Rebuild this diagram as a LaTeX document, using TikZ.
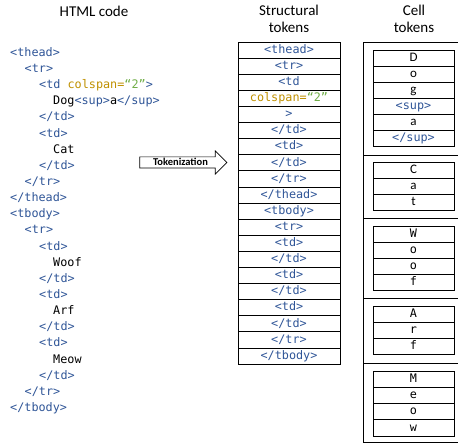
\documentclass[tikz,border=0pt]{standalone}
\usepackage{fontspec}
\setmainfont{Carlito}
\newfontfamily\codefont{DejaVu Sans Mono}
\usetikzlibrary{shapes.arrows}
\definecolor{tagblue}{RGB}{47,85,151}
\definecolor{attrgold}{RGB}{191,144,0}
\definecolor{valgreen}{RGB}{112,173,71}
\newcommand{\TAG}[1]{{\color{tagblue}#1}}
\newcommand{\ATTR}[1]{{\color{attrgold}#1}}
\newcommand{\VAL}[1]{{\color{valgreen}#1}}

\begin{document}
\begin{tikzpicture}[x=1pt,y=-1pt,
    code/.style={anchor=west,inner sep=0pt,font=\codefont\fontsize{11.8}{14}\selectfont,text height=9pt,text depth=2.5pt},
    title/.style={align=center,font=\fontsize{15}{17}\selectfont},
    stok/.style={draw,line width=0.7pt,minimum width=102pt,minimum height=16.1pt,inner sep=0pt,font=\codefont\fontsize{11.8}{14}\selectfont,text height=9pt,text depth=2.5pt},
    ctok/.style={stok,minimum width=81pt},
    ctoksans/.style={ctok,font=\fontsize{13}{15}\selectfont}]
    \useasboundingbox (0,0) rectangle (458,443);
    % titles
    \node (htmltitle) at (94,11) [title] {HTML code};
    \node (sttitle) at (289,18.5) [title] {Structural\\tokens};
    \node (celltitle) at (414,18.5) [title] {Cell\\tokens};
    % HTML code
    \node (c1)  at (10,53.0)  [code] {\TAG{<thead>}};
    \node (c2)  at (24.5,69.2)  [code] {\TAG{<tr>}};
    \node (c3)  at (39,85.3)  [code] {\TAG{<td} \ATTR{colspan=}\VAL{“2”}\TAG{>}};
    \node (c4)  at (53,101.5) [code] {Dog\TAG{<sup>}a\TAG{</sup>}};
    \node (c5)  at (39,117.6) [code] {\TAG{</td>}};
    \node (c6)  at (39,133.8) [code] {\TAG{<td>}};
    \node (c7)  at (53,149.9) [code] {Cat};
    \node (c8)  at (39,166.1) [code] {\TAG{</td>}};
    \node (c9)  at (24.5,182.2) [code] {\TAG{</tr>}};
    \node (c10) at (10,198.4) [code] {\TAG{</thead>}};
    \node (c11) at (10,214.5) [code] {\TAG{<tbody>}};
    \node (c12) at (24.5,230.7) [code] {\TAG{<tr>}};
    \node (c13) at (39,246.8) [code] {\TAG{<td>}};
    \node (c14) at (53,263.0) [code] {Woof};
    \node (c15) at (39,279.1) [code] {\TAG{</td>}};
    \node (c16) at (39,295.3) [code] {\TAG{<td>}};
    \node (c17) at (53,311.4) [code] {Arf};
    \node (c18) at (39,327.6) [code] {\TAG{</td>}};
    \node (c19) at (39,343.7) [code] {\TAG{<td>}};
    \node (c20) at (53,359.9) [code] {Meow};
    \node (c21) at (39,376.0) [code] {\TAG{</td>}};
    \node (c22) at (24.5,392.2) [code] {\TAG{</tr>}};
    \node (c23) at (10,408.3) [code] {\TAG{</tbody>}};
    % tokenization arrow
    \node (tokarrow) at (180.5,162.5) [single arrow,draw,line width=0.7pt,minimum height=87pt,
        inner xsep=2pt,inner ysep=1pt,text height=7.5pt,text depth=1pt,
        single arrow head extend=6pt,font=\bfseries\fontsize{10.5}{11}\selectfont] {Tokenization};
    % structural tokens
    \node (s1)  at (289,50.1)  [stok] {\TAG{<thead>}};
    \node (s2)  at (289,66.2)  [stok] {\TAG{<tr>}};
    \node (s3)  at (289,82.3)  [stok] {\TAG{<td}};
    \node (s4)  at (289,98.4)  [stok] {\ATTR{colspan=}\VAL{“2”}};
    \node (s5)  at (289,114.5) [stok] {\TAG{>}};
    \node (s6)  at (289,130.6) [stok] {\TAG{</td>}};
    \node (s7)  at (289,146.7) [stok] {\TAG{<td>}};
    \node (s8)  at (289,162.8) [stok] {\TAG{</td>}};
    \node (s9)  at (289,178.9) [stok] {\TAG{</tr>}};
    \node (s10) at (289,195.0) [stok] {\TAG{</thead>}};
    \node (s11) at (289,211.1) [stok] {\TAG{<tbody>}};
    \node (s12) at (289,227.2) [stok] {\TAG{<tr>}};
    \node (s13) at (289,243.3) [stok] {\TAG{<td>}};
    \node (s14) at (289,259.4) [stok] {\TAG{</td>}};
    \node (s15) at (289,275.5) [stok] {\TAG{<td>}};
    \node (s16) at (289,291.6) [stok] {\TAG{</td>}};
    \node (s17) at (289,307.7) [stok] {\TAG{<td>}};
    \node (s18) at (289,323.8) [stok] {\TAG{</td>}};
    \node (s19) at (289,339.9) [stok] {\TAG{</tr>}};
    \node (s20) at (289,356.0) [stok] {\TAG{</tbody>}};
    % cell tokens
    \draw[line width=0.7pt] (363,42) rectangle (462,442);
    \draw[line width=0.7pt] (363,155) -- (462,155);
    \draw[line width=0.7pt] (363,218.2) -- (462,218.2);
    \draw[line width=0.7pt] (363,298.3) -- (462,298.3);
    \draw[line width=0.7pt] (363,363.5) -- (462,363.5);
    \node (dog1) at (413.5,58.05)  [ctoksans] {D};
    \node (dog2) at (413.5,74.15)  [ctoksans] {o};
    \node (dog3) at (413.5,90.25)  [ctoksans] {g};
    \node (dog4) at (413.5,106.35) [ctok] {\TAG{<sup>}};
    \node (dog5) at (413.5,122.45) [ctoksans] {a};
    \node (dog6) at (413.5,138.55) [ctok] {\TAG{</sup>}};
    \node (cat1) at (413.5,170.4)  [ctoksans] {C};
    \node (cat2) at (413.5,186.5)  [ctoksans] {a};
    \node (cat3) at (413.5,202.6)  [ctoksans] {t};
    \node (woof1) at (413.5,234.05) [ctok] {W};
    \node (woof2) at (413.5,250.15) [ctok] {o};
    \node (woof3) at (413.5,266.25) [ctok] {o};
    \node (woof4) at (413.5,282.35) [ctok] {f};
    \node (arf1) at (413.5,314.55) [ctok] {A};
    \node (arf2) at (413.5,330.65) [ctok] {r};
    \node (arf3) at (413.5,346.75) [ctok] {f};
    \node (meow1) at (413.5,379.55) [ctok] {M};
    \node (meow2) at (413.5,395.65) [ctok] {e};
    \node (meow3) at (413.5,411.75) [ctok] {o};
    \node (meow4) at (413.5,427.85) [ctok] {w};
\end{tikzpicture}
\end{document}
